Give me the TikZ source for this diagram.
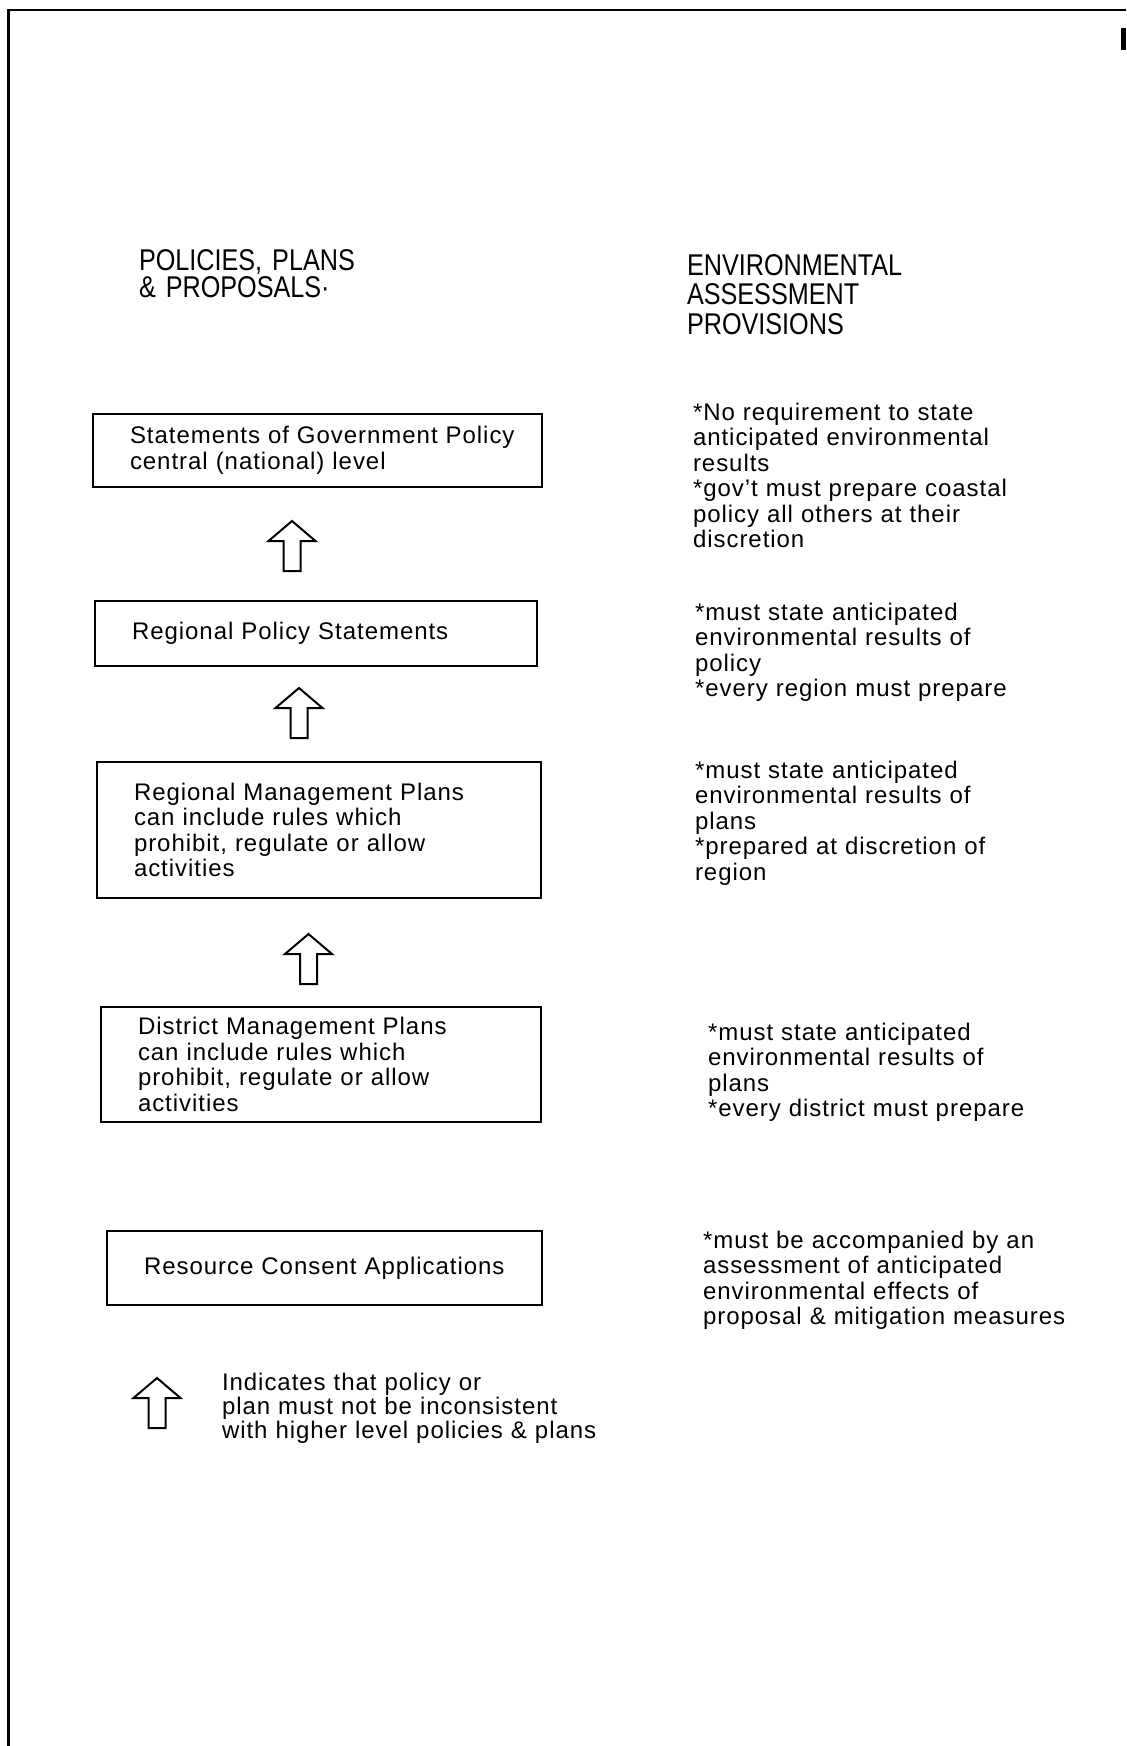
\documentclass[tikz,border=0pt]{standalone}
\usepackage{fontspec}
\setmainfont{Liberation Sans}[LetterSpace=4]
\newfontfamily\headfont{Liberation Sans}[FakeStretch=0.84]

\begin{document}
\begin{tikzpicture}
[x=0.5pt,y=-0.5pt,
 every node/.style={inner sep=0pt,outer sep=0pt,align=left,font=\fontsize{12}{12.75}\selectfont},
 stmt/.style={draw=black,line width=1pt,anchor=north west,execute at begin node={\leftskip=18.5pt\relax}},
 prov/.style={anchor=base west,text width=200pt},
 head/.style={anchor=base west,text width=150pt},
 uparr/.pic={\draw[line width=1pt] (0,0) -- (23.5,20) -- (8.5,20) -- (8.5,50) -- (-8.5,50) -- (-8.5,20) -- (-23.5,20) -- cycle;}]
\useasboundingbox (0,0) rectangle (1126,1746);
% frame
\draw[line width=1.4pt] (8.5,1746) -- (8.5,10) -- (1126,10);
\draw[line width=2.5pt] (1123,28) -- (1123,50);
% column heads
\node[head,font=\headfont\fontsize{15}{13.5}\selectfont]  (pol) at (139,270) {POLICIES, PLANS\\\& PROPOSALS·};
\node[head,font=\headfont\fontsize{15}{14.75}\selectfont] (eap) at (687,275) {ENVIRONMENTAL\\ASSESSMENT\\PROVISIONS};
% left column
\node[stmt,text width=224.5pt,minimum height=36.5pt] (gov) at (93,414)  {Statements of Government Policy\\central (national) level};
\node[stmt,text width=221pt,minimum height=32.5pt]   (rps) at (95,601)  {Regional Policy Statements};
\node[stmt,text width=222pt,minimum height=68pt]     (rmp) at (97,762)  {Regional Management Plans\\can include rules which\\prohibit, regulate or allow\\activities};
\node[stmt,text width=220pt,minimum height=57.5pt]   (dmp) at (101,1007) {District Management Plans\\can include rules which\\prohibit, regulate or allow\\activities};
\node[stmt,text width=217.5pt,minimum height=37pt]   (rca) at (107,1231) {Resource Consent Applications};
\pic (ar1) at (292,521)   {uparr};
\pic (ar2) at (299,688)   {uparr};
\pic (ar3) at (308.5,934) {uparr};
% right column
\node[prov] (pgov) at (693,420)  {*No requirement to state\\anticipated environmental\\results\\{}*gov't must prepare coastal\\policy all others at their\\discretion};
\node[prov] (prps) at (695,620)  {*must state anticipated\\environmental results of\\policy\\{}*every region must prepare};
\node[prov] (prmp) at (695,778)  {*must state anticipated\\environmental results of\\plans\\{}*prepared at discretion of\\region};
\node[prov] (pdmp) at (708,1040) {*must state anticipated\\environmental results of\\plans\\{}*every district must prepare};
\node[prov] (prca) at (703,1248) {*must be accompanied by an\\assessment of anticipated\\environmental effects of\\proposal \& mitigation measures};
% key
\pic (key) at (157,1378) {uparr};
\node[prov,font=\fontsize{12}{12}\selectfont] (keytxt) at (222,1390) {Indicates that policy or\\plan must not be inconsistent\\with higher level policies \& plans};
\end{tikzpicture}
\end{document}
